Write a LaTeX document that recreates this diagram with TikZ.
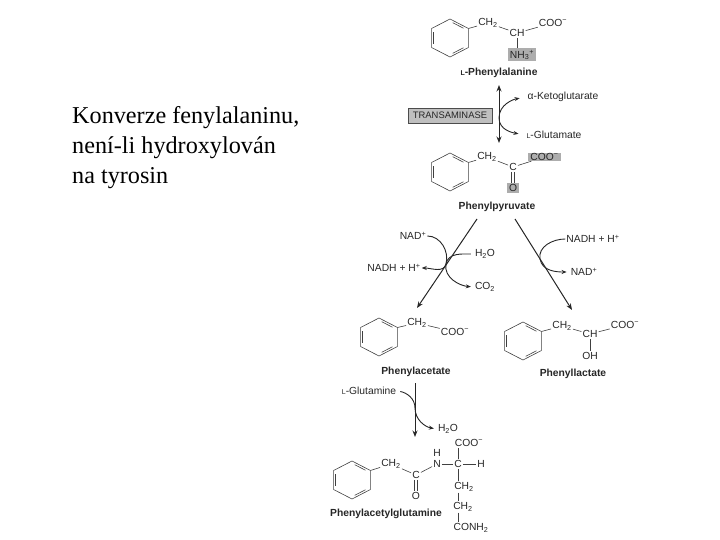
\documentclass[tikz,border=0pt]{standalone}
\usepackage{fontspec}
\setmainfont{Liberation Serif}
\newfontfamily\chemfont{Liberation Sans}
\usetikzlibrary{arrows.meta,calc,shapes.geometric}
\newcommand{\chtwo}{CH\textsubscript{2}}
\newcommand{\coominus}{COO\textsuperscript{−}}
\newcommand{\nadh}{NADH + H\textsuperscript{+}}
\newcommand{\nadplus}{NAD\textsuperscript{+}}
\newcommand{\phring}[2]{%
  \node[ringbox] (#1) at (#2) {};
  \foreach \a in {30,150,270}
    \draw[bond,shift={(#2)},xscale=1.12] (\a+9:15.5) -- (\a+51:15.5);
}
\tikzset{
  atom/.style={font=\chemfont\fontsize{10.3}{11}\selectfont, text=black!85, inner sep=1pt},
  title/.style={font=\chemfont\bfseries\fontsize{10.3}{11}\selectfont, text=black!85, inner sep=0pt},
  greybox/.style={atom, fill=black!32},
  ringbox/.style={draw=black!75, line width=0.6pt, regular polygon, regular polygon sides=6,
    shape border rotate=30, minimum size=38pt, inner sep=0pt, outer sep=0pt, xscale=1.12},
  bond/.style={draw=black!75, line width=0.6pt},
  rxn/.style={draw=black!85, line width=1pt, -{Stealth[length=6.5pt,width=5pt]}},
  side/.style={draw=black!85, line width=0.9pt, -{Stealth[length=5pt,width=4pt]}},
  sidein/.style={draw=black!85, line width=0.9pt}
}

\begin{document}
\begin{tikzpicture}[x=1pt,y=1pt]
\useasboundingbox (0,-540) rectangle (720,0);

% Caption
\node[align=left, anchor=north west, inner sep=0pt, font=\fontsize{24.2}{30}\selectfont] (caption) at (72,-106)
  {Konverze fenylalaninu,\\není-li hydroxylován\\na tyrosin};

% L-Phenylalanine
\phring{ringa}{450,-38}
\node[atom] (cha) at (488,-23) {\chtwo};
\node[atom] (cb) at (517,-33) {CH};
\node[atom] (cooa) at (553,-23) {\coominus};
\node[greybox, minimum width=28pt, minimum height=13pt] (nha) at (522,-55) {NH\textsubscript{3}\textsuperscript{+}};
\node[title] (phe) at (499,-73) {{\scriptsize L}-Phenylalanine};
\draw[bond] (ringa.30) -- (cha);
\draw[bond] (cha) -- (cb);
\draw[bond] (cb) -- (cooa);
\draw[bond] (cb) -- (cb|-nha.north);

% Transamination
\coordinate (ta) at (499,-85);
\coordinate (tb) at (499,-143);
\coordinate (tm) at (499,-118);
\node[greybox, draw=black!70, minimum width=84pt, minimum height=15pt, fill=black!25,
  font=\chemfont\fontsize{9.4}{10}\selectfont] (trans) at (450,-115.5) {TRANSAMINASE};
\node[atom] (keto) at (563,-97) {α-Ketoglutarate};
\node[atom] (glu) at (554,-135) {{\scriptsize L}-Glutamate};
\draw[rxn,{Stealth[length=6.5pt,width=5pt]}-{Stealth[length=6.5pt,width=5pt]}] (ta) -- (tb);
\draw[side,shorten >=7pt] (tm) to[out=90,in=190] (keto.west);
\draw[side,shorten >=7pt] (tm) to[out=270,in=170] (glu.west);

% Phenylpyruvate
\phring{ringb}{450,-172}
\node[atom] (chb) at (487,-157) {\chtwo};
\node[atom] (cc) at (513,-167) {C};
\node[greybox, minimum width=33pt, minimum height=8pt, inner sep=0pt] (coob) at (544.5,-157) {\coominus};
\node[greybox, minimum width=12pt, minimum height=10pt, inner sep=0pt] (ob) at (513,-188) {O};
\node[title] (pyr) at (497,-207) {Phenylpyruvate};
\draw[bond] (ringb.30) -- (chb);
\draw[bond] (chb) -- (cc);
\draw[bond] (cc) -- (coob);
\draw[bond] ([xshift=-1.5pt]cc.south) -- ([xshift=-1.5pt]ob.north);
\draw[bond] ([xshift=1.5pt]cc.south) -- ([xshift=1.5pt]ob.north);

% Branches from phenylpyruvate
\coordinate (la) at (477,-219);
\coordinate (lb) at (417,-308);
\coordinate (ra) at (515,-219);
\coordinate (rb) at (572,-310);
\draw[rxn] (la) -- (lb);
\draw[rxn] (ra) -- (rb);

% Left branch cofactors
\coordinate (lm) at (446,-264);
\coordinate (rm) at (540,-259);
\node[atom] (nada) at (413,-236) {\nadplus};
\node[atom] (nadha) at (394,-268) {\nadh};
\node[atom] (wata) at (485,-254) {H\textsubscript{2}O};
\node[atom] (coa) at (485,-287) {CO\textsubscript{2}};
\draw[sidein] (nada.east) to[out=0,in=75] (lm);
\draw[side] (lm) to[out=255,in=0] (nadha.east);
\draw[sidein,shorten <=3pt] (wata.west) to[out=180,in=80] (lm);
\draw[side,shorten >=3pt] (lm) to[out=260,in=175] (coa.west);

% Right branch cofactors
\node[atom] (nadhb) at (593,-239) {\nadh};
\node[atom] (nadb) at (584,-272) {\nadplus};
\draw[sidein] (nadhb.west) to[out=180,in=100] (rm);
\draw[side,shorten >=3pt] (rm) to[out=280,in=180] (nadb.west);

% Phenylacetate
\phring{ringc}{379,-337}
\node[atom] (chc) at (417,-323) {\chtwo};
\node[atom] (cooc) at (455,-332) {\coominus};
\node[title] (ace) at (416,-372) {Phenylacetate};
\draw[bond] (ringc.30) -- (chc);
\draw[bond] (chc) -- (cooc);

% Phenyllactate
\phring{ringd}{523,-341}
\node[atom] (chd) at (562,-326) {\chtwo};
\node[atom] (cd) at (590,-334) {CH};
\node[atom] (cood) at (625,-325) {\coominus};
\node[atom] (ohd) at (590,-356) {OH};
\node[title] (lac) at (573,-374) {Phenyllactate};
\draw[bond] (ringd.30) -- (chd);
\draw[bond] (chd) -- (cd);
\draw[bond] (cd) -- (cood);
\draw[bond] (cd) -- (ohd);

% Glutamine conjugation
\coordinate (ga) at (415,-383);
\coordinate (gb) at (415,-437);
\coordinate (gm) at (415,-408);
\node[atom] (gln) at (369,-391) {{\scriptsize L}-Glutamine};
\node[atom] (watb) at (448,-429) {H\textsubscript{2}O};
\draw[rxn] (ga) -- (gb);
\draw[sidein,shorten <=3pt] (gln.east) to[out=-10,in=90] (gm);
\draw[side,shorten >=3pt] (gm) to[out=270,in=170] (watb.west);

% Phenylacetylglutamine
\phring{ringe}{352,-480}
\node[atom] (che) at (391,-464) {\chtwo};
\node[atom] (ce) at (416,-475) {C};
\node[atom] (oe) at (416,-496) {O};
\node[atom] (ne) at (437,-464) {N};
\node[atom] (he) at (437,-453) {H};
\node[atom] (cf) at (458,-464) {C};
\node[atom] (hf) at (481,-464) {H};
\node[atom] (coof) at (469,-443) {\coominus};
\node[atom] (chf) at (464,-487) {\chtwo};
\node[atom] (chg) at (463,-507) {\chtwo};
\node[atom] (conh) at (471,-528) {CONH\textsubscript{2}};
\node[title] (agl) at (386,-514) {Phenylacetylglutamine};
\draw[bond] (ringe.30) -- (che);
\draw[bond] (che) -- (ce);
\draw[bond] (ce) -- (ne);
\draw[bond] (ne) -- (cf);
\draw[bond] (cf) -- (hf);
\draw[bond] (cf) -- (cf|-coof.south);
\draw[bond] (cf) -- (cf|-chf.north);
\draw[bond] (cf|-chf.south) -- (cf|-chg.north);
\draw[bond] (cf|-chg.south) -- (cf|-conh.north);
\draw[bond] ([xshift=-1.5pt]ce.south) -- ([xshift=-1.5pt]oe.north);
\draw[bond] ([xshift=1.5pt]ce.south) -- ([xshift=1.5pt]oe.north);
\end{tikzpicture}
\end{document}
